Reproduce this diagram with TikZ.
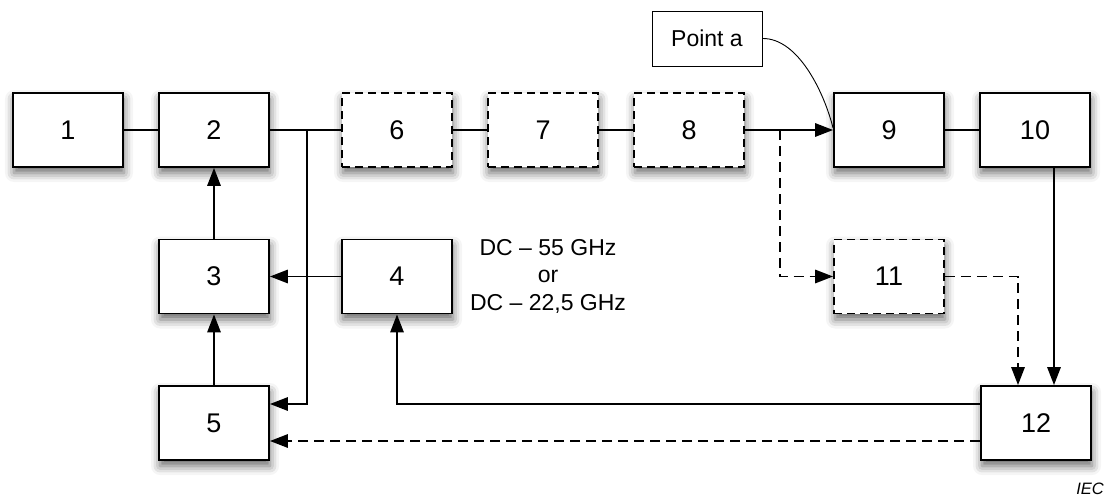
\documentclass[tikz,border=0pt]{standalone}
\usepackage{fontspec}
\setmainfont{Liberation Sans}
\usetikzlibrary{arrows.meta,shadows.blur}
\begin{document}
\begin{tikzpicture}[x=1pt,y=-1pt,
  box/.style={draw, line width=1.9pt, fill=white, minimum width=110pt, minimum height=74pt,
    inner sep=0pt, font=\fontsize{27}{31}\selectfont,
    blur shadow={shadow xshift=1pt, shadow yshift=-6pt, shadow blur radius=9pt, shadow opacity=60}},
  dbox/.style={box, dash pattern=on 8pt off 5pt},
  conn/.style={line width=1.6pt},
  arr/.style={conn, -{Triangle[length=18pt,width=13.5pt]}},
  darr/.style={arr, dash pattern=on 10pt off 6pt},
  thin/.style={line width=0.9pt}
]
\useasboundingbox (0,0) rectangle (1110,497);
\node[box] (n1) at (68,130) {1};
\node[box] (n2) at (214,130) {2};
\node[dbox] (n6) at (397,130) {6};
\node[dbox] (n7) at (543,130) {7};
\node[dbox] (n8) at (689,130) {8};
\node[box] (n9) at (889,130) {9};
\node[box] (n10) at (1035,130) {10};
\node[box] (n3) at (214,276.5) {3};
\node[box] (n4) at (397,276.5) {4};
\node[dbox] (n11) at (889,276.5) {11};
\node[box] (n5) at (214,423) {5};
\node[box] (n12) at (1036,423) {12};
\node[draw, thin, fill=white, minimum width=110pt, minimum height=55pt, inner sep=0pt,
  font=\fontsize{23}{27}\selectfont] (pa) at (707,38.5) {Point a};
\node[align=center, inner sep=0pt, font=\fontsize{23}{27.5}\selectfont] (dc) at (548,276)
  {DC -- 55 GHz\\or\\DC -- 22,5 GHz};
\node[inner sep=0pt, font=\fontsize{16.5}{19}\selectfont\itshape] (iec) at (1090,489) {IEC};

\draw[conn] (n1) -- (n2);
\draw[conn] (n2) -- (n6);
\draw[conn] (n6) -- (n7);
\draw[conn] (n7) -- (n8);
\draw[conn] (n9) -- (n10);
\coordinate (j1) at (307,130);
\coordinate (j1b) at (307,404);
\draw[arr] (j1) -- (j1b) -- (j1b -| n5.east);
\draw[arr] (n3) -- (n2);
\draw[arr] (n5) -- (n3);
\draw[arr] (n4) -- (n3);
\draw[arr] ([yshift=19pt]n12.west) -| (n4.south);
\draw[darr] ([yshift=-18pt]n12.west) -- ([yshift=-18pt]n5.east);
\draw[arr] (n8) -- (n9);
\coordinate (j2) at (780,130);
\draw[darr] (j2) |- (n11.west);
\draw[darr] (n11.east) -| ([xshift=-18pt]n12.north);
\draw[arr] ([xshift=19pt]n10.south) -- ([xshift=18pt]n12.north);
\draw[thin] (pa.east) .. controls (798,38) and (824,92) .. ([yshift=2pt]n9.west);
\end{tikzpicture}
\end{document}
